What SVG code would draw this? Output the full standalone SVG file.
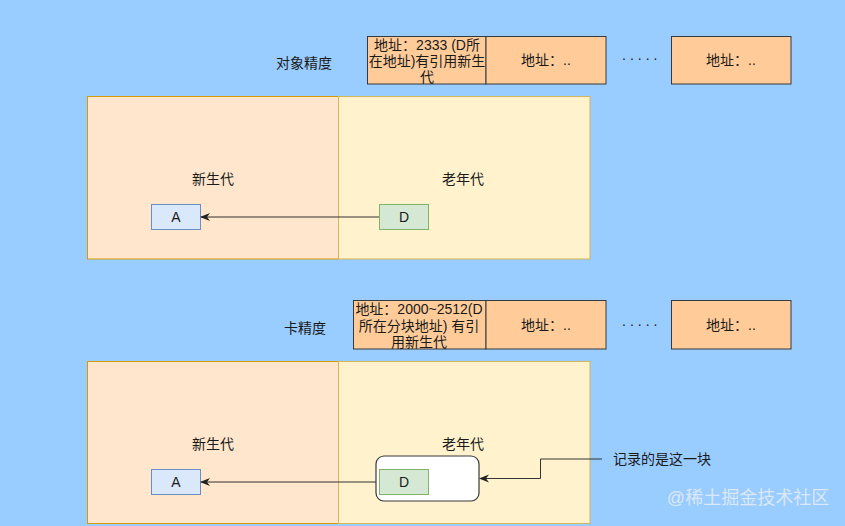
<svg xmlns="http://www.w3.org/2000/svg" width="845" height="526" viewBox="0 0 845 526">
<defs>
<style>
text{font-family:"Liberation Sans","Noto Sans CJK SC",sans-serif;font-size:14px;fill:#1a1a1a;text-anchor:middle;}
.young{fill:#FFE6CC;stroke:#D79B00;stroke-width:1;}
.old{fill:#FFF2CC;stroke:#D6B656;stroke-width:1;}
.cell{fill:#FFCC99;stroke:#36393D;stroke-width:1;}
.a{fill:#DAE8FC;stroke:#6C8EBF;stroke-width:1;}
.d{fill:#D5E8D4;stroke:#82B366;stroke-width:1;}
.edge{fill:none;stroke:#333;stroke-width:1;}
.dots{text-anchor:start;letter-spacing:4px;}
</style>
<marker id="arr" viewBox="0 0 10 10" refX="9" refY="5" markerWidth="10" markerHeight="10" markerUnits="userSpaceOnUse" orient="auto">
<path d="M0,1 L10,5 L0,9 L3,5 Z" fill="#222"/>
</marker>
</defs>
<rect x="0" y="0" width="845" height="526" fill="#99CCFF"/>

<!-- top section -->
<g id="label-obj"><text x="304" y="68">对象精度</text></g>
<g id="cell-top-1"><rect class="cell" x="367.5" y="36.5" width="118.5" height="47.5"/>
<text x="427" y="50">地址：2333 (D所</text><text x="427" y="66">在地址)有引用新生</text><text x="427" y="82">代</text></g>
<g id="cell-top-2"><rect class="cell" x="486" y="36.5" width="120" height="47.5"/><text x="546" y="65">地址：..</text></g>
<g id="dots-top"><text class="dots" x="622" y="60">.....</text></g>
<g id="cell-top-3"><rect class="cell" x="671.5" y="36.5" width="119.5" height="47.5"/><text x="731" y="65">地址：..</text></g>

<g id="young-top"><rect class="young" x="87.5" y="96.5" width="251" height="162.5"/><text x="213" y="184">新生代</text></g>
<g id="old-top"><rect class="old" x="338.5" y="96.5" width="251.5" height="162.5"/><text x="463" y="184">老年代</text></g>
<g id="A-top"><rect class="a" x="151.5" y="204.5" width="49" height="25"/><text x="176" y="222">A</text></g>
<g id="D-top"><rect class="d" x="379.5" y="204.5" width="49" height="25"/><text x="404" y="222">D</text></g>

<!-- bottom section -->
<g id="label-card"><text x="305" y="333">卡精度</text></g>
<g id="cell-bot-1"><rect class="cell" x="353.5" y="300.5" width="132.5" height="48.5"/>
<text x="419" y="314">地址：2000~2512(D</text><text x="419" y="331">所在分块地址) 有引</text><text x="419" y="347">用新生代</text></g>
<g id="cell-bot-2"><rect class="cell" x="486" y="300.5" width="120" height="48.5"/><text x="546" y="330">地址：..</text></g>
<g id="dots-bot"><text class="dots" x="622" y="326">.....</text></g>
<g id="cell-bot-3"><rect class="cell" x="671.5" y="300.5" width="119.5" height="48.5"/><text x="731" y="330">地址：..</text></g>

<g id="young-bot"><rect class="young" x="87.5" y="361.5" width="251" height="162"/><text x="213" y="449">新生代</text></g>
<g id="old-bot"><rect class="old" x="338.5" y="361.5" width="251.5" height="162"/><text x="463" y="449">老年代</text></g>
<g id="block"><rect x="376" y="456" width="103" height="45" rx="8" ry="8" fill="#FFFFFF" stroke="#36393D" stroke-width="1.2"/></g>
<g id="A-bot"><rect class="a" x="151.5" y="469.5" width="49" height="25"/><text x="176" y="487">A</text></g>
<g id="D-bot"><rect class="d" x="379.5" y="469.5" width="49" height="25"/><text x="404" y="487">D</text></g>
<g id="note"><text x="613" y="464" style="text-anchor:start">记录的是这一块</text></g>

<g id="connectors">
<path class="edge" d="M379,217 L201,217" marker-end="url(#arr)"/>
<path class="edge" d="M376,482 L201,482" marker-end="url(#arr)"/>
<path class="edge" d="M602,459 L540.5,459 L540.5,478.5 L480,478.5" marker-end="url(#arr)"/>
</g>

<text x="748" y="504" style="font-size:18px;fill:#E6EEF6;opacity:0.85">@稀土掘金技术社区</text>
</svg>
